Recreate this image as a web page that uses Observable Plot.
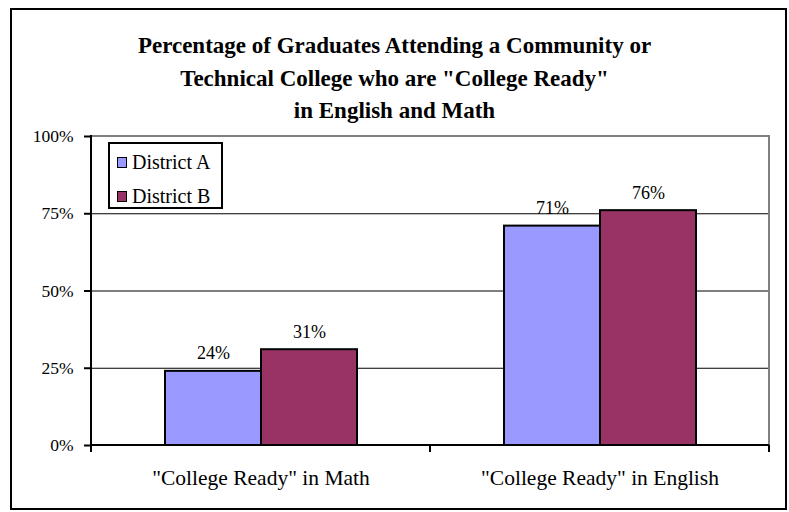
<!DOCTYPE html>
<html><head><meta charset="utf-8">
<script src="https://cdn.jsdelivr.net/npm/d3@7"></script>
<script src="https://cdn.jsdelivr.net/npm/@observablehq/plot@0.6"></script>
<style>
body{margin:0;background:#fff;font-family:"Liberation Serif","Times New Roman",serif;color:#000;}
#wrap{position:relative;width:789px;height:512px;overflow:hidden;background:#fff;}
#title{position:absolute;left:0;top:30px;width:789px;text-align:center;font-weight:bold;font-size:23px;line-height:32.5px;}
#chart{position:absolute;left:0;top:125px;}
#legend{position:absolute;left:108px;top:142px;width:115px;height:67px;border:2px solid #000;box-sizing:border-box;background:#fff;font-size:20px;}
.item{position:absolute;left:7px;display:flex;align-items:center;height:22px;}
.sw{width:8px;height:9px;border:1.5px solid #000;margin-right:5px;}
#border{position:absolute;left:10px;top:8px;width:777px;height:502px;border:2px solid #000;box-sizing:border-box;pointer-events:none;}
</style></head>
<body>
<div id="wrap">
  <div id="title"></div>
  <div id="chart"></div>
  <div id="legend"></div>
  <div id="border"></div>
</div>
<script>
const titleLines = ["Percentage of Graduates Attending a Community or", "Technical College who are \"College Ready\"", "in English and Math"];
const categories = ["\"College Ready\" in Math", "\"College Ready\" in English"];
const districts = ["District A", "District B"];
const districtA = [0.24, 0.71];
const districtB = [0.31, 0.76];
const yTicks = [0, 0.25, 0.5, 0.75, 1];
const colors = ["#9999FF", "#993366"];

const data = [];
categories.forEach((c, i) => {
  data.push({category: c, district: districts[0], value: districtA[i]});
  data.push({category: c, district: districts[1], value: districtB[i]});
});

document.getElementById("title").innerHTML = titleLines.map(t => `<div>${t.replace(/"/g, "&quot;")}</div>`).join("");

const chart = Plot.plot({
  width: 789,
  height: 387,
  marginLeft: 91,
  marginRight: 20,
  marginTop: 11,
  marginBottom: 67,
  style: {fontFamily: "'Liberation Serif','Times New Roman',serif", color: "#000", background: "transparent"},
  fx: {domain: categories, padding: 0, label: null},
  x: {domain: districts, paddingInner: 0, paddingOuter: 0.756, axis: null},
  y: {domain: [0, 1], axis: null},
  color: {domain: districts, range: colors},
  marks: [
    Plot.ruleY(yTicks.slice(1, -1), {stroke: "#000", strokeWidth: 1}),
    Plot.barY(data, {fx: "category", x: "district", y: "value", fill: "district", stroke: "#000", strokeWidth: 2}),
    Plot.text(data, {fx: "category", x: "district", y: "value", text: d => Math.round(d.value * 100) + "%", lineAnchor: "bottom", dy: -12, fontSize: 18, fill: "#000"}),
    Plot.axisY(yTicks, {tickFormat: d => Math.round(d * 100) + "%", tickSize: 7, tickPadding: 11, fontSize: 17.5, label: null, strokeWidth: 2}),
    Plot.axisFx({anchor: "bottom", tickSize: 0, tickPadding: 24, fontSize: 21.5, label: null})
  ]
});
document.getElementById("chart").appendChild(chart);

// decorative axis lines and frame derived from the library's scales
const fx = chart.scale("fx"), y = chart.scale("y");
const svg = d3.select(chart);
const left = fx.apply(categories[0]);
const right = fx.apply(categories[categories.length - 1]) + fx.bandwidth;
const y0 = y.apply(0), y1 = y.apply(1);
const g = svg.append("g");
g.append("path").attr("d", `M${left},${y1}H${right}V${y0}`).attr("fill", "none").attr("stroke", "#808080").attr("stroke-width", 2);
g.append("line").attr("x1", left).attr("x2", right).attr("y1", y0).attr("y2", y0).attr("stroke", "#000").attr("stroke-width", 2);
g.append("line").attr("x1", left).attr("x2", left).attr("y1", y1 - 1).attr("y2", y0 + 7).attr("stroke", "#000").attr("stroke-width", 2);
const bounds = [left, ...categories.map(c => fx.apply(c) + fx.bandwidth)];
bounds.forEach(b => g.append("line").attr("x1", b).attr("x2", b).attr("y1", y0).attr("y2", y0 + 7).attr("stroke", "#000").attr("stroke-width", 2));

// legend
const legend = document.getElementById("legend");
districts.forEach((d, i) => {
  const it = document.createElement("div");
  it.className = "item";
  it.style.top = (7 + i * 34) + "px";
  it.innerHTML = `<div class="sw" style="background:${colors[i]}"></div><span>${d}</span>`;
  legend.appendChild(it);
});
</script>
</body></html>
